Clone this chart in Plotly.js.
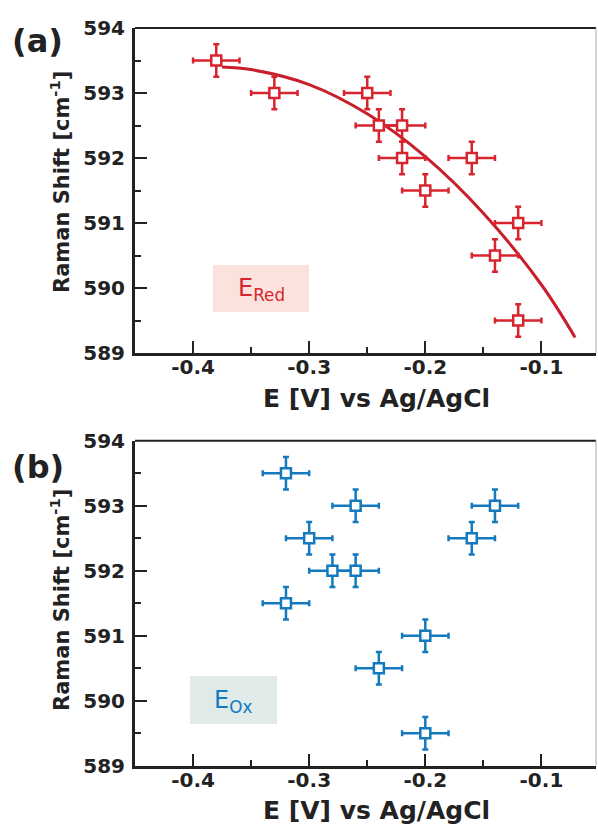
<!DOCTYPE html>
<html>
<head>
<meta charset="utf-8">
<script src="https://cdn.plot.ly/plotly-3.0.1.min.js"></script>
<style>html,body{margin:0;padding:0;background:#fff;}#chart{width:598px;height:824px;}</style>
</head>
<body>
<div id="chart"></div>
<script>
// Panel (a): E_Red
const redE = [-0.38, -0.33, -0.25, -0.24, -0.22, -0.22, -0.16, -0.20, -0.12, -0.14, -0.12];
const redShift = [593.5, 593.0, 593.0, 592.5, 592.5, 592.0, 592.0, 591.5, 591.0, 590.5, 589.5];
// Fit curve
const fitE = [-0.375, -0.35, -0.30, -0.25, -0.20, -0.15, -0.10, -0.071];
const fitShift = [593.40, 593.36, 593.13, 592.68, 592.02, 591.15, 590.05, 589.24];
// Panel (b): E_Ox
const oxE = [-0.32, -0.32, -0.26, -0.14, -0.30, -0.16, -0.28, -0.26, -0.20, -0.24, -0.20];
const oxShift = [593.5, 591.5, 593.0, 593.0, 592.5, 592.5, 592.0, 592.0, 591.0, 590.5, 589.5];
const errE = 0.02;
const errShift = 0.25;
const xTicks = [-0.4, -0.3, -0.2, -0.1];
const yTicks = [589, 590, 591, 592, 593, 594];

const RED = '#d8242f';
const REDLINE = '#c81f2b';
const BLUE = '#1479bd';
const AX = '#222222';
const FONT = 'DejaVu Sans, Liberation Sans, Arial, sans-serif';

function pts(x, y, c, xa, ya) {
  return {
    x: x, y: y, xaxis: xa, yaxis: ya, type: 'scatter', mode: 'markers',
    marker: {symbol: 'square', size: 10, color: '#ffffff', line: {color: c, width: 2.5}},
    error_x: {type: 'constant', value: errE, color: c, thickness: 2.5, width: 3},
    error_y: {type: 'constant', value: errShift, color: c, thickness: 2.5, width: 3},
    showlegend: false, cliponaxis: false
  };
}

const traces = [
  {x: fitE, y: fitShift, xaxis: 'x', yaxis: 'y', type: 'scatter', mode: 'lines',
   line: {color: REDLINE, width: 3, shape: 'spline'}, showlegend: false},
  pts(redE, redShift, RED, 'x', 'y'),
  pts(oxE, oxShift, BLUE, 'x2', 'y2')
];

function xax(anchor) {
  return {
    domain: [0, 1], anchor: anchor, range: [-0.45, -0.053], tickvals: xTicks,
    ticktext: xTicks.map(v => v.toFixed(1)),
    showgrid: false, zeroline: false, showline: true, linewidth: 3, linecolor: AX,
    ticks: 'inside', ticklen: 12, tickwidth: 2, tickcolor: AX,
    minor: {dtick: 0.05, tick0: 0, ticks: 'inside', ticklen: 6, tickwidth: 2, tickcolor: AX},
    tickfont: {family: FONT, size: 20, color: '#222', weight: 'bold'},
    ticklabelstandoff: -6, fixedrange: true
  };
}
function yax(anchor, dom) {
  return {
    domain: dom, anchor: anchor, range: [589, 594], tickvals: yTicks,
    showgrid: false, zeroline: false, showline: true, linewidth: 3, linecolor: AX,
    ticks: 'inside', ticklen: 12, tickwidth: 2, tickcolor: AX,
    minor: {dtick: 0.5, ticks: 'inside', ticklen: 6, tickwidth: 2, tickcolor: AX},
    tickfont: {family: FONT, size: 20, color: '#222', weight: 'bold'},
    ticklabelstandoff: 3, fixedrange: true
  };
}

const H = 824;
const domA = [1 - 353 / H, 1 - 28 / H];
const domB = [1 - 765.7 / H, 1 - 440.7 / H];

function frame(xr, yr) {
  return [
    {type: 'line', xref: xr + ' domain', yref: yr + ' domain', x0: 0, x1: 1, y0: 1, y1: 1,
     line: {color: AX, width: 2}},
    {type: 'line', xref: xr + ' domain', yref: yr + ' domain', x0: 1, x1: 1, y0: 0, y1: 1,
     line: {color: '#aaaaaa', width: 1}}
  ];
}

const layout = {
  width: 598, height: 824,
  margin: {l: 135, r: 2, t: 0, b: 0},
  paper_bgcolor: '#ffffff', plot_bgcolor: '#ffffff',
  xaxis: xax('y'), yaxis: yax('x', domA),
  xaxis2: xax('y2'), yaxis2: yax('x2', domB),
  shapes: [
    ...frame('x', 'y'), ...frame('x2', 'y2'),
    {type: 'rect', xref: 'paper', yref: 'paper', layer: 'below',
     x0: (213 - 135) / 461, x1: (309 - 135) / 461, y0: 1 - 312 / H, y1: 1 - 265 / H,
     fillcolor: '#fbe2dc', line: {width: 0}},
    {type: 'rect', xref: 'paper', yref: 'paper', layer: 'below',
     x0: (190 - 135) / 461, x1: (277 - 135) / 461, y0: 1 - 724 / H, y1: 1 - 676 / H,
     fillcolor: '#dfeae9', line: {width: 0}}
  ],
  annotations: [
    {text: '(a)', xref: 'paper', yref: 'paper', x: (37 - 135) / 461, y: 1 - 41 / H,
     xanchor: 'center', yanchor: 'middle', showarrow: false,
     font: {family: FONT, size: 32, color: '#222', weight: 'bold'}},
    {text: '(b)', xref: 'paper', yref: 'paper', x: (38 - 135) / 461, y: 1 - 467 / H,
     xanchor: 'center', yanchor: 'middle', showarrow: false,
     font: {family: FONT, size: 32, color: '#222', weight: 'bold'}},
    {text: 'Raman Shift [cm<sup>-1</sup>]', xref: 'paper', yref: 'paper', x: (60 - 135) / 461, y: 1 - 182 / H,
     xanchor: 'center', yanchor: 'middle', showarrow: false, textangle: -90,
     font: {family: FONT, size: 21, color: '#222', weight: 'bold'}},
    {text: 'Raman Shift [cm<sup>-1</sup>]', xref: 'paper', yref: 'paper', x: (60 - 135) / 461, y: 1 - 600 / H,
     xanchor: 'center', yanchor: 'middle', showarrow: false, textangle: -90,
     font: {family: FONT, size: 21, color: '#222', weight: 'bold'}},
    {text: 'E [V] vs Ag/AgCl', xref: 'paper', yref: 'paper', x: (376 - 135) / 461, y: 1 - 398 / H,
     xanchor: 'center', yanchor: 'middle', showarrow: false,
     font: {family: FONT, size: 25, color: '#222', weight: 'bold'}},
    {text: 'E [V] vs Ag/AgCl', xref: 'paper', yref: 'paper', x: (376 - 135) / 461, y: 1 - 810 / H,
     xanchor: 'center', yanchor: 'middle', showarrow: false,
     font: {family: FONT, size: 25, color: '#222', weight: 'bold'}},
    {text: 'E<sub>Red</sub>', xref: 'paper', yref: 'paper', x: (261 - 135) / 461, y: 1 - 290 / H,
     xanchor: 'center', yanchor: 'middle', showarrow: false,
     font: {family: FONT, size: 24, color: RED}},
    {text: 'E<sub>Ox</sub>', xref: 'paper', yref: 'paper', x: (233 - 135) / 461, y: 1 - 701 / H,
     xanchor: 'center', yanchor: 'middle', showarrow: false,
     font: {family: FONT, size: 24, color: BLUE}}
  ]
};

Plotly.newPlot('chart', traces, layout, {displayModeBar: false, staticPlot: true});
</script>
</body>
</html>
